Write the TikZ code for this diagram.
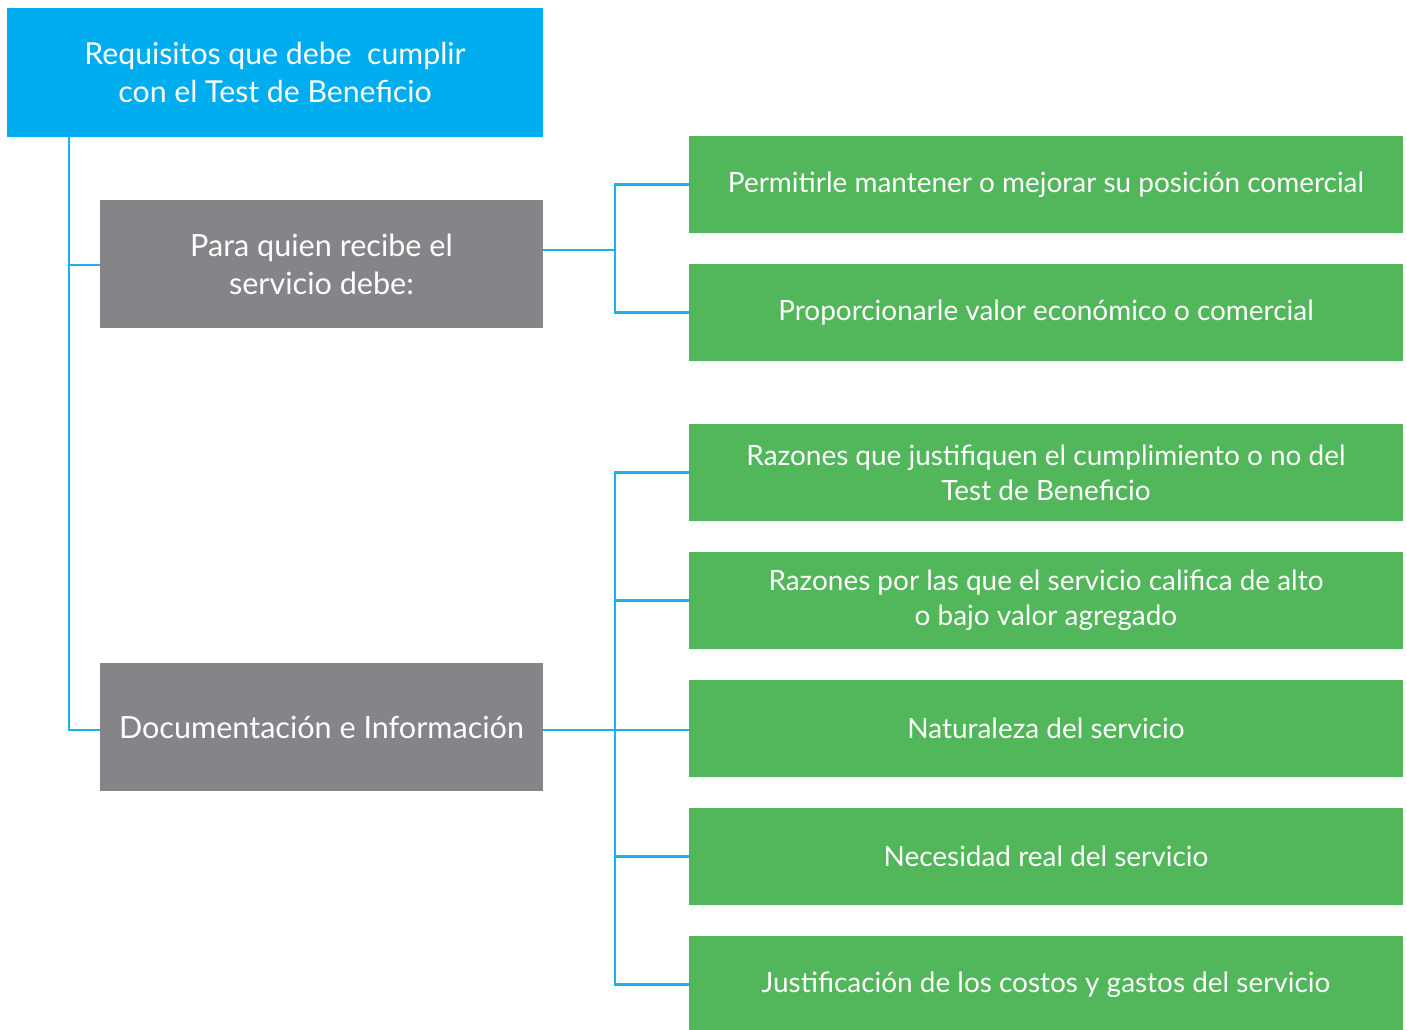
\documentclass[tikz,border=0pt]{standalone}
\usepackage{fontspec}
\setmainfont{Lato}
\usepackage{tikz}

\definecolor{reqblue}{HTML}{00AEEF}
\definecolor{reqgray}{HTML}{848589}
\definecolor{reqgreen}{HTML}{52B65A}
\definecolor{reqline}{HTML}{19B1EE}

\tikzset{
  titlebox/.style={fill=reqblue, text=white, align=center, inner sep=0pt,
    minimum width=10.72cm, minimum height=2.58cm, font=\fontsize{17.2}{21.5}\selectfont},
  groupbox/.style={fill=reqgray, text=white, align=center, inner sep=0pt,
    minimum width=8.86cm, minimum height=2.56cm, font=\fontsize{17.4}{21.5}\selectfont},
  itembox/.style={fill=reqgreen, text=white, align=center, inner sep=0pt,
    minimum width=14.28cm, minimum height=1.94cm, font=\fontsize{15.9}{20}\selectfont},
  link/.style={draw=reqline, line width=1.4pt}
}

\begin{document}
\begin{tikzpicture}[x=0.02cm, y=-0.02cm]
\useasboundingbox (0,0) rectangle (1407,1029);

\node [titlebox] (title) at (275,72.5) {Requisitos que debe\ \ cumplir\\con el Test de Beneficio};

\node [groupbox] (receptor) at (321.5,264) {Para quien recibe el\\servicio debe:};
\node [groupbox] (docs) at (321.5,727) {Documentación e Información};

\node [itembox] (item1) at (1046,184.5) {Permitirle mantener o mejorar su posición comercial};
\node [itembox] (item2) at (1046,312.5) {Proporcionarle valor económico o comercial};
\node [itembox] (item3) at (1046,472.5) {Razones que justifiquen el cumplimiento o no del\\Test de Beneficio};
\node [itembox] (item4) at (1046,600.5) {Razones por las que el servicio califica de alto\\o bajo valor agregado};
\node [itembox] (item5) at (1046,728.5) {Naturaleza del servicio};
\node [itembox] (item6) at (1046,856.5) {Necesidad real del servicio};
\node [itembox] (item7) at (1046,984.5) {Justificación de los costos y gastos del servicio};

\coordinate (trunk) at (69,137);
\coordinate (bus1) at (615,250);
\coordinate (bus2) at (615,730);

\draw[link] (trunk) |- (receptor.west |- 0,265); % left trunk
\draw[link] (trunk) |- (docs.west |- bus2);

\draw[link] (receptor.east |- bus1) -- (bus1); % first group
\draw[link] (item1.west) -| (bus1) |- (item2.west);

\draw[link] (docs.east |- bus2) -- (item5.west |- bus2); % second group
\draw[link] (item3.west) -| (bus2 |- item7.west) -- (item7.west);
\foreach \i in {4,6}{
    \draw[link] (bus2 |- item\i.west) -- (item\i.west);
}

\end{tikzpicture}
\end{document}
